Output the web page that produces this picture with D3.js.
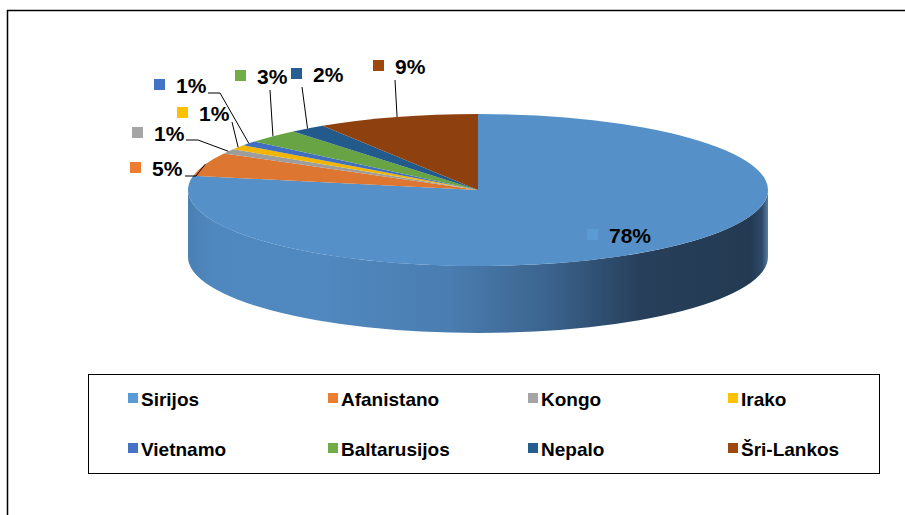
<!DOCTYPE html>
<html>
<head>
<meta charset="utf-8">
<script src="https://cdn.jsdelivr.net/npm/d3@7"></script>
<style>
  body { margin: 0; background: #fff; }
  text { font-family: "Liberation Sans", Arial, sans-serif; font-weight: bold; fill: #000; }
</style>
</head>
<body>
<div id="chart"></div>
<script>

var categories = ['Sirijos', 'Afanistano', 'Kongo', 'Irako', 'Vietnamo', 'Baltarusijos', 'Nepalo', 'Šri-Lankos'];
var values = [78, 5, 1, 1, 1, 3, 2, 9];
var labels = ['78%', '5%', '1%', '1%', '1%', '3%', '2%', '9%'];

// colours: legend key / top face
var keyColors = ['#5b9bd5', '#ed7d31', '#a5a5a5', '#ffc000', '#4472c4', '#70ad47', '#255e91', '#9e480e'];
var faceColors = ['#5591c8', '#dc7630', '#9d9d9d', '#f2b600', '#416fc0', '#68a443', '#235a8c', '#8e410e'];

var width = 905, height = 515;
var cx = 478, cy = 190, rx = 290, ry = 76, depth = 67;

// label placement (text x, baseline) and leader start / elbow, like hand dragged labels
var labelLayout = [
  {x: 609, y: 243, leader: null},
  {x: 152, y: 176, leader: [[185, 176], [196, 176]]},
  {x: 154, y: 141, leader: [[186, 140], [198, 140]]},
  {x: 199, y: 121, leader: [[232, 122]]},
  {x: 176, y: 93,  leader: [[208, 93], [220, 93]]},
  {x: 257, y: 84,  leader: [[270, 90]]},
  {x: 313, y: 82,  leader: [[302, 87]]},
  {x: 395, y: 74,  leader: [[395, 80]]}
];

var legendCols = [128, 328, 528, 728];
var legendRows = [406, 456];

var svg = d3.select('#chart').append('svg')
  .attr('width', width)
  .attr('height', height);

var defs = svg.append('defs');
var grad = defs.append('linearGradient')
  .attr('id', 'sideGrad')
  .attr('gradientUnits', 'userSpaceOnUse')
  .attr('x1', cx - rx).attr('x2', cx + rx)
  .attr('y1', 0).attr('y2', 0);
[[0, '#4a80b4'], [0.04, '#4f88be'], [0.22, '#5089c0'], [0.45, '#4a7db0'], [0.62, '#3b648e'],
 [0.78, '#273f5a'], [0.97, '#233a52'], [0.99, '#2e4a68'], [1, '#5a7ea3']]
  .forEach(function(s) {
    grad.append('stop').attr('offset', s[0]).attr('stop-color', s[1]);
  });

// outer frame (cropped on the right and bottom)
svg.append('path')
  .attr('d', 'M7.5,515 L7.5,10.5 L905,10.5')
  .attr('fill', 'none')
  .attr('stroke', '#000')
  .attr('stroke-width', 1.5);

var pie = d3.pie().sort(null).value(function(d) { return d; });
var arcs = pie(values);

// angle measured clockwise from 12 o'clock
function pt(a, dy) {
  return [cx + rx * Math.sin(a), cy + (dy || 0) - ry * Math.cos(a)];
}

// front side walls: only the part between 90 and 270 degrees is visible
var sideG = svg.append('g');
arcs.forEach(function(d, i) {
  var a0 = Math.max(d.startAngle, Math.PI / 2);
  var a1 = Math.min(d.endAngle, Math.PI * 1.5);
  if (a1 <= a0) return;
  var p0 = pt(a0), p1 = pt(a1), q0 = pt(a0, depth), q1 = pt(a1, depth);
  var path = 'M' + p0 + ' A' + rx + ',' + ry + ' 0 0 1 ' + p1 +
    ' L' + q1 + ' A' + rx + ',' + ry + ' 0 0 0 ' + q0 + ' Z';
  sideG.append('path')
    .attr('d', path)
    .attr('fill', i == 0 ? 'url(#sideGrad)' : d3.color(faceColors[i]).darker(1));
});

// top faces
svg.append('g').selectAll('path')
  .data(arcs)
  .enter()
  .append('path')
  .attr('d', function(d) {
    var p0 = pt(d.startAngle), p1 = pt(d.endAngle);
    var large = (d.endAngle - d.startAngle) > Math.PI ? 1 : 0;
    return 'M' + cx + ',' + cy + ' L' + p0 + ' A' + rx + ',' + ry + ' 0 ' + large + ' 1 ' + p1 + ' Z';
  })
  .attr('fill', function(d, i) { return faceColors[i]; });

// leader lines
svg.append('g').selectAll('path')
  .data(arcs)
  .enter()
  .filter(function(d, i) { return labelLayout[i].leader; })
  .append('path')
  .attr('d', function(d) {
    var i = d.index;
    var anchor = pt((d.startAngle + d.endAngle) / 2);
    return d3.line()(labelLayout[i].leader.concat([anchor]));
  })
  .attr('fill', 'none')
  .attr('stroke', '#000')
  .attr('stroke-width', 1);

// data labels with key squares
var lab = svg.append('g').selectAll('g')
  .data(labels)
  .enter()
  .append('g');

lab.append('rect')
  .attr('x', function(d, i) { return labelLayout[i].x - 22; })
  .attr('y', function(d, i) { return labelLayout[i].y - 14; })
  .attr('width', 11)
  .attr('height', 11)
  .attr('fill', function(d, i) { return keyColors[i]; });

lab.append('text')
  .attr('x', function(d, i) { return labelLayout[i].x; })
  .attr('y', function(d, i) { return labelLayout[i].y; })
  .style('font-size', '21px')
  .text(function(d) { return d; });

// legend
svg.append('rect')
  .attr('x', 88.5).attr('y', 374.5)
  .attr('width', 791).attr('height', 99)
  .attr('fill', 'none')
  .attr('stroke', '#000')
  .attr('stroke-width', 1);

var leg = svg.append('g').selectAll('g')
  .data(categories)
  .enter()
  .append('g')
  .attr('transform', function(d, i) {
    return 'translate(' + legendCols[i % 4] + ',' + legendRows[Math.floor(i / 4)] + ')';
  });

leg.append('rect')
  .attr('x', 0).attr('y', -13)
  .attr('width', 10).attr('height', 10)
  .attr('fill', function(d, i) { return keyColors[i]; });

leg.append('text')
  .attr('x', 13)
  .attr('y', 0)
  .style('font-size', '19px')
  .text(function(d) { return d; });

</script>
</body>
</html>
